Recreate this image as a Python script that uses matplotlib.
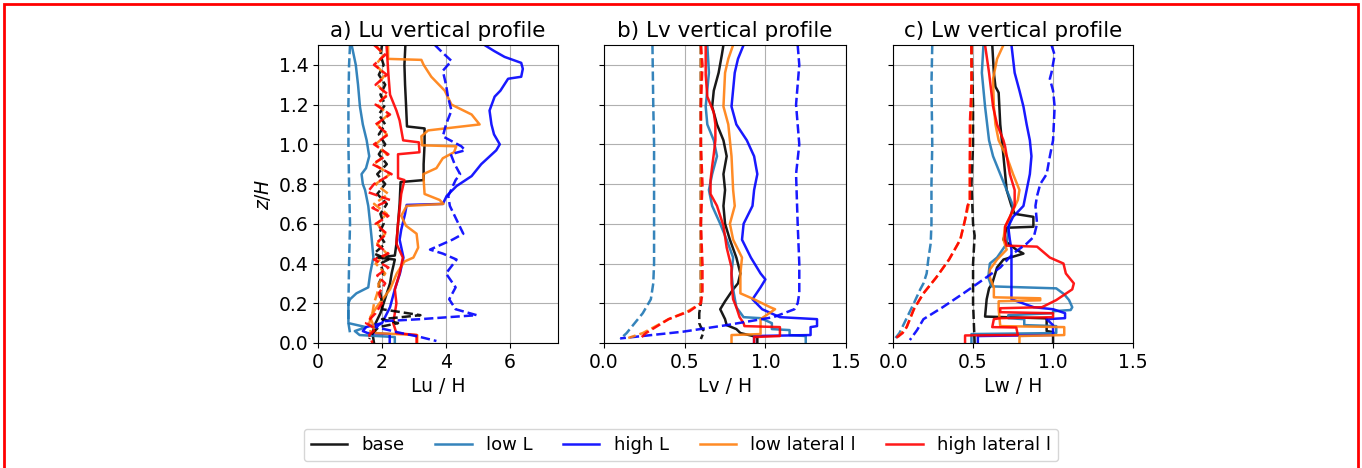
import matplotlib.pyplot as plt
import matplotlib.patches as mpatches
import matplotlib.lines as mlines
import numpy as np

# --- profiles read off the figure : (z/H, L/H) ---
# a) Lu
lu_base = [(1.50, 2.73), (1.40, 2.70), (1.30, 2.72), (1.20, 2.75), (1.09, 2.78), (1.08, 3.33),
           (1.00, 3.33), (0.90, 3.30), (0.82, 3.30), (0.81, 2.58), (0.70, 2.55), (0.60, 2.50),
           (0.50, 2.45), (0.44, 2.40), (0.43, 1.85), (0.42, 2.40), (0.35, 2.30), (0.30, 2.25),
           (0.25, 2.15), (0.20, 2.05), (0.15, 1.95), (0.10, 1.80), (0.05, 1.70), (0.00, 1.75)]
lu_lowL = [(1.50, 1.05), (1.40, 1.18), (1.30, 1.25), (1.19, 1.31), (1.10, 1.40), (1.02, 1.52),
           (0.94, 1.60), (0.88, 1.50), (0.85, 1.36), (0.80, 1.40), (0.77, 1.47), (0.69, 1.57),
           (0.60, 1.63), (0.52, 1.68), (0.43, 1.73), (0.35, 1.63), (0.28, 1.57), (0.25, 1.20),
           (0.22, 1.00), (0.20, 0.95), (0.13, 0.95), (0.10, 0.95), (0.08, 1.50), (0.06, 1.15),
           (0.04, 1.30), (0.03, 2.40), (0.00, 2.40)]
lu_highL = [(1.50, 5.20), (1.47, 5.50), (1.44, 5.83), (1.41, 6.35), (1.38, 6.40), (1.34, 6.35),
            (1.33, 5.94), (1.27, 5.70), (1.24, 5.52), (1.17, 5.36), (1.10, 5.42), (1.05, 5.50),
            (1.00, 5.68), (0.97, 5.57), (0.90, 5.10), (0.84, 4.80), (0.79, 4.33), (0.74, 4.02),
            (0.70, 3.90), (0.695, 2.77), (0.65, 2.72), (0.57, 2.60), (0.52, 2.55), (0.43, 2.67),
            (0.35, 2.56), (0.27, 2.40), (0.18, 2.25), (0.10, 2.00), (0.08, 1.50), (0.06, 1.40),
            (0.05, 1.55), (0.045, 2.24), (0.00, 2.24)]
lu_lowlat = [(1.50, 2.19), (1.43, 2.19), (1.425, 3.23), (1.40, 3.30), (1.34, 3.54), (1.27, 3.96),
             (1.20, 4.17), (1.15, 4.80), (1.10, 5.05), (1.07, 3.44), (1.04, 3.23), (0.995, 3.25),
             (0.99, 4.32), (0.96, 4.25), (0.93, 3.90), (0.88, 3.70), (0.85, 3.29), (0.75, 3.33),
             (0.72, 3.80), (0.70, 3.92), (0.69, 2.77), (0.64, 2.60), (0.59, 2.75), (0.55, 3.08),
             (0.48, 3.13), (0.43, 2.98), (0.41, 2.70), (0.35, 2.46), (0.27, 2.25), (0.18, 1.83),
             (0.13, 1.63), (0.08, 1.75), (0.05, 1.80), (0.04, 3.10), (0.00, 3.10)]
lu_highlat = [(1.50, 2.14), (1.35, 2.20), (1.25, 2.25), (1.17, 2.45), (1.12, 2.55), (1.02, 2.66),
              (1.01, 3.15), (0.96, 3.17), (0.95, 2.50), (0.83, 2.50), (0.82, 2.70), (0.75, 2.60),
              (0.60, 2.50), (0.50, 2.45), (0.43, 2.65), (0.35, 2.55), (0.27, 2.40), (0.20, 2.45),
              (0.10, 2.35), (0.05, 2.45), (0.04, 3.08), (0.00, 3.08)]
lu_base_d = [(1.50, 2.00), (1.45, 1.95), (1.40, 2.05), (1.35, 1.90), (1.30, 2.10), (1.25, 1.95),
             (1.20, 2.10), (1.15, 1.90), (1.10, 2.10), (1.05, 1.90), (1.00, 2.10), (0.95, 1.90),
             (0.90, 2.15), (0.85, 1.85), (0.80, 2.10), (0.75, 1.85), (0.70, 2.15), (0.65, 1.95),
             (0.60, 2.05), (0.55, 1.90), (0.50, 2.10), (0.45, 1.75), (0.42, 2.20), (0.40, 1.95),
             (0.35, 2.05), (0.30, 1.90), (0.25, 1.95), (0.20, 2.00), (0.17, 2.00), (0.14, 3.20),
             (0.12, 2.00), (0.10, 2.50), (0.08, 1.90), (0.05, 1.70), (0.02, 1.60)]
lu_lowL_d = [(1.50, 1.00), (1.40, 0.97), (1.20, 0.95), (1.00, 0.95), (0.80, 0.97), (0.60, 1.00),
             (0.40, 0.97), (0.20, 0.95), (0.10, 0.95), (0.05, 1.00)]
lu_highL_d = [(1.50, 3.65), (1.46, 3.90), (1.42, 4.17), (1.37, 3.90), (1.30, 4.00), (1.24, 4.06),
              (1.17, 4.17), (1.10, 4.00), (1.04, 3.90), (0.99, 4.48), (0.97, 4.60), (0.95, 4.15),
              (0.90, 4.27), (0.85, 4.44), (0.82, 4.30), (0.74, 4.07), (0.69, 4.12), (0.62, 4.33),
              (0.55, 4.54), (0.52, 4.20), (0.47, 3.50), (0.45, 3.90), (0.42, 4.33), (0.35, 4.00),
              (0.28, 4.30), (0.22, 4.10), (0.17, 4.30), (0.14, 4.96), (0.12, 3.20), (0.11, 2.08),
              (0.08, 1.80), (0.05, 2.60), (0.03, 3.20), (0.01, 3.70)]
lu_lowlat_d = [(1.50, 1.80), (1.45, 2.05), (1.40, 1.80), (1.35, 2.10), (1.30, 1.85), (1.25, 2.15),
               (1.20, 1.85), (1.15, 2.20), (1.10, 1.85), (1.05, 2.15), (1.00, 1.80), (0.95, 2.15),
               (0.90, 1.75), (0.85, 2.25), (0.80, 1.80), (0.75, 2.20), (0.70, 1.75), (0.65, 2.15),
               (0.60, 1.85), (0.55, 2.10), (0.50, 1.85), (0.45, 2.15), (0.40, 1.80), (0.35, 2.10),
               (0.30, 1.90), (0.25, 1.85), (0.20, 1.75), (0.15, 1.70), (0.10, 1.60), (0.05, 1.65)]
lu_highlat_d = [(1.50, 1.75), (1.45, 2.10), (1.40, 1.75), (1.35, 2.15), (1.30, 1.80), (1.25, 2.20),
                (1.20, 1.80), (1.15, 2.25), (1.10, 1.80), (1.05, 2.20), (1.00, 1.75), (0.95, 2.20),
                (0.90, 1.70), (0.85, 2.30), (0.80, 1.75), (0.76, 1.55), (0.72, 2.25), (0.68, 1.70),
                (0.64, 2.20), (0.60, 1.80), (0.55, 2.15), (0.50, 1.80), (0.45, 2.20), (0.42, 1.75),
                (0.38, 2.20), (0.34, 1.85), (0.30, 2.10), (0.25, 1.90), (0.20, 2.00), (0.15, 1.80),
                (0.10, 1.50), (0.07, 1.80), (0.04, 1.60), (0.00, 1.70)]

# b) Lv
lv_base = [(1.50, 0.74), (1.45, 0.73), (1.36, 0.71), (1.27, 0.68), (1.19, 0.67), (1.10, 0.70),
           (1.02, 0.74), (0.94, 0.76), (0.85, 0.74), (0.77, 0.75), (0.69, 0.74), (0.60, 0.75),
           (0.52, 0.78), (0.43, 0.82), (0.35, 0.845), (0.30, 0.83), (0.27, 0.80), (0.21, 0.75),
           (0.17, 0.72), (0.12, 0.75), (0.09, 0.76), (0.07, 0.82), (0.05, 0.845), (0.03, 0.95),
           (0.00, 0.95)]
lv_lowL = [(1.50, 0.64), (1.36, 0.65), (1.19, 0.63), (1.10, 0.64), (1.02, 0.68), (0.94, 0.70),
           (0.85, 0.67), (0.77, 0.65), (0.69, 0.67), (0.60, 0.72), (0.52, 0.76), (0.43, 0.80),
           (0.35, 0.79), (0.27, 0.80), (0.18, 0.82), (0.13, 0.865), (0.125, 0.97), (0.10, 1.04),
           (0.07, 1.04), (0.065, 1.15), (0.04, 1.15), (0.035, 1.25), (0.00, 1.25)]
lv_highL = [(1.50, 0.865), (1.43, 0.83), (1.36, 0.81), (1.19, 0.79), (1.10, 0.82), (1.02, 0.885),
            (0.94, 0.93), (0.85, 0.95), (0.77, 0.93), (0.69, 0.92), (0.60, 0.865), (0.52, 0.855),
            (0.43, 0.91), (0.35, 0.97), (0.32, 1.00), (0.28, 0.97), (0.22, 0.92), (0.17, 0.98),
            (0.13, 1.09), (0.12, 1.32), (0.085, 1.32), (0.08, 1.28), (0.04, 1.28), (0.035, 0.93),
            (0.00, 0.93)]
lv_lowlat = [(1.50, 0.80), (1.43, 0.77), (1.36, 0.75), (1.19, 0.74), (1.10, 0.77), (0.94, 0.79),
             (0.77, 0.80), (0.69, 0.81), (0.60, 0.78), (0.52, 0.80), (0.43, 0.855), (0.35, 0.845),
             (0.25, 0.845), (0.22, 0.93), (0.18, 1.03), (0.17, 1.06), (0.12, 0.97), (0.045, 0.97),
             (0.04, 0.79), (0.00, 0.79)]
lv_highlat = [(1.50, 0.63), (1.35, 0.63), (1.24, 0.64), (1.16, 0.68), (1.10, 0.69), (1.02, 0.69),
              (0.95, 0.68), (0.89, 0.67), (0.82, 0.66), (0.75, 0.66), (0.69, 0.70), (0.59, 0.74),
              (0.48, 0.76), (0.38, 0.79), (0.30, 0.79), (0.22, 0.80), (0.18, 0.82), (0.13, 0.84),
              (0.10, 0.865), (0.085, 0.87), (0.08, 1.09), (0.035, 1.09), (0.03, 0.93), (0.00, 0.93)]
lv_base_d = [(1.50, 0.60), (1.00, 0.60), (0.50, 0.60), (0.20, 0.60), (0.15, 0.59), (0.10, 0.59),
             (0.08, 0.60), (0.06, 0.62), (0.04, 0.61), (0.02, 0.60)]
lv_lowL_d = [(1.50, 0.30), (1.20, 0.305), (1.00, 0.31), (0.80, 0.31), (0.60, 0.31), (0.40, 0.31),
             (0.30, 0.305), (0.22, 0.29), (0.15, 0.24), (0.10, 0.19), (0.05, 0.14), (0.02, 0.10)]
lv_highL_d = [(1.50, 1.20), (1.40, 1.21), (1.30, 1.20), (1.20, 1.19), (1.00, 1.21), (0.85, 1.19),
              (0.60, 1.20), (0.40, 1.21), (0.25, 1.21), (0.20, 1.20), (0.17, 1.18), (0.13, 1.05),
              (0.09, 0.76), (0.057, 0.49), (0.023, 0.10)]
lv_lowlat_d = [(1.50, 0.60), (1.20, 0.60), (0.80, 0.60), (0.40, 0.60), (0.20, 0.60), (0.16, 0.52),
               (0.12, 0.40), (0.08, 0.31), (0.05, 0.24), (0.025, 0.15)]
lv_highlat_d = [(1.50, 0.60), (1.40, 0.61), (1.20, 0.60), (1.00, 0.60), (0.80, 0.61), (0.60, 0.60),
                (0.40, 0.61), (0.25, 0.61), (0.20, 0.60), (0.16, 0.53), (0.12, 0.40), (0.08, 0.32),
                (0.05, 0.26), (0.02, 0.22)]

# c) Lw
lw_base = [(1.50, 0.62), (1.36, 0.63), (1.29, 0.64), (1.26, 0.66), (1.10, 0.67), (0.94, 0.69),
           (0.77, 0.71), (0.69, 0.74), (0.65, 0.76), (0.635, 0.877), (0.585, 0.877), (0.58, 0.71),
           (0.52, 0.69), (0.47, 0.77), (0.45, 0.815), (0.42, 0.69), (0.38, 0.65), (0.30, 0.62),
           (0.275, 0.60), (0.22, 0.585), (0.133, 0.575), (0.124, 0.96), (0.06, 0.96), (0.055, 1.00),
           (0.00, 1.00)]
lw_lowL = [(1.50, 0.565), (1.36, 0.555), (1.19, 0.575), (1.02, 0.60), (0.94, 0.625), (0.85, 0.67),
           (0.77, 0.71), (0.69, 0.75), (0.62, 0.73), (0.50, 0.71), (0.43, 0.65), (0.40, 0.605),
           (0.33, 0.595), (0.285, 0.615), (0.275, 1.02), (0.245, 1.07), (0.216, 1.10), (0.18, 1.12),
           (0.166, 1.11), (0.16, 1.00), (0.15, 1.00), (0.14, 0.72), (0.125, 0.72), (0.12, 0.82),
           (0.09, 0.82), (0.085, 1.02), (0.05, 1.02), (0.045, 0.49), (0.00, 0.49)]
lw_highL = [(1.50, 0.74), (1.36, 0.76), (1.27, 0.79), (1.19, 0.815), (1.10, 0.835), (1.02, 0.855),
            (0.94, 0.865), (0.85, 0.855), (0.77, 0.835), (0.69, 0.815), (0.635, 0.75), (0.585, 0.72),
            (0.52, 0.73), (0.47, 0.74), (0.35, 0.74), (0.22, 0.74), (0.18, 0.88), (0.17, 1.00),
            (0.15, 1.075), (0.125, 1.075), (0.12, 0.96), (0.09, 1.00), (0.04, 1.00), (0.035, 0.53),
            (0.00, 0.53)]
lw_lowlat = [(1.50, 0.69), (1.43, 0.65), (1.33, 0.625), (1.19, 0.63), (1.10, 0.64), (1.02, 0.66),
             (0.97, 0.69), (0.94, 0.71), (0.85, 0.75), (0.77, 0.79), (0.72, 0.78), (0.65, 0.74),
             (0.585, 0.70), (0.52, 0.69), (0.47, 0.71), (0.42, 0.65), (0.37, 0.605), (0.33, 0.605),
             (0.28, 0.63), (0.23, 0.63), (0.225, 0.92), (0.215, 0.92), (0.21, 0.66), (0.17, 0.66),
             (0.085, 0.67), (0.08, 1.07), (0.04, 1.07), (0.035, 0.79), (0.00, 0.79)]
lw_highlat = [(1.50, 0.575), (1.36, 0.60), (1.19, 0.625), (1.10, 0.65), (1.02, 0.69), (0.99, 0.70),
              (0.85, 0.73), (0.77, 0.76), (0.69, 0.76), (0.635, 0.73), (0.585, 0.70), (0.52, 0.70),
              (0.49, 0.71), (0.485, 0.90), (0.43, 0.98), (0.40, 1.065), (0.35, 1.08), (0.30, 1.13),
              (0.27, 1.12), (0.216, 1.02), (0.18, 0.93), (0.175, 0.67), (0.155, 0.67), (0.15, 1.00),
              (0.13, 1.00), (0.125, 0.67), (0.12, 0.63), (0.08, 0.62), (0.078, 0.77), (0.04, 0.78),
              (0.038, 0.45), (0.00, 0.45)]
lw_base_d = [(1.50, 0.49), (1.20, 0.50), (1.00, 0.50), (0.80, 0.49), (0.60, 0.50), (0.54, 0.51),
             (0.40, 0.50), (0.20, 0.50), (0.00, 0.51)]
lw_lowL_d = [(1.50, 0.245), (1.30, 0.24), (1.00, 0.245), (0.80, 0.24), (0.60, 0.24), (0.50, 0.235),
             (0.42, 0.22), (0.35, 0.21), (0.30, 0.19), (0.27, 0.17), (0.20, 0.13), (0.15, 0.10),
             (0.10, 0.07), (0.05, 0.04), (0.01, 0.00)]
lw_highL_d = [(1.50, 0.99), (1.45, 1.01), (1.36, 0.99), (1.33, 0.98), (1.27, 1.00), (1.19, 1.01),
              (1.02, 1.00), (0.94, 0.98), (0.85, 0.96), (0.80, 0.92), (0.74, 0.90), (0.69, 0.89),
              (0.60, 0.90), (0.535, 0.88), (0.50, 0.835), (0.45, 0.75), (0.38, 0.67), (0.32, 0.565),
              (0.25, 0.44), (0.18, 0.31), (0.12, 0.19), (0.065, 0.15), (0.015, 0.105)]
lw_lowlat_d = [(1.50, 0.49), (1.20, 0.49), (0.90, 0.48), (0.72, 0.48), (0.62, 0.45), (0.52, 0.42),
               (0.42, 0.35), (0.33, 0.27), (0.25, 0.19), (0.17, 0.13), (0.08, 0.085), (0.03, 0.03)]
lw_highlat_d = [(1.50, 0.49), (1.30, 0.49), (1.10, 0.48), (0.90, 0.48), (0.72, 0.48), (0.69, 0.465),
                (0.62, 0.45), (0.52, 0.42), (0.42, 0.35), (0.33, 0.27), (0.25, 0.19), (0.17, 0.13),
                (0.08, 0.085), (0.05, 0.06), (0.02, 0.01)]

cases = ['base', 'low L', 'high L', 'low lateral l', 'high lateral l']
colors = ['black', '#1f77b4', 'blue', '#ff7f0e', 'red']

panels = [
    ('a) Lu vertical profile', 'Lu / H', (0, 7.5), [0, 2, 4, 6],
     [lu_base, lu_lowL, lu_highL, lu_lowlat, lu_highlat],
     [lu_base_d, lu_lowL_d, lu_highL_d, lu_lowlat_d, lu_highlat_d]),
    ('b) Lv vertical profile', 'Lv / H', (0, 1.5), [0.0, 0.5, 1.0, 1.5],
     [lv_base, lv_lowL, lv_highL, lv_lowlat, lv_highlat],
     [lv_base_d, lv_lowL_d, lv_highL_d, lv_lowlat_d, lv_highlat_d]),
    ('c) Lw vertical profile', 'Lw / H', (0, 1.5), [0.0, 0.5, 1.0, 1.5],
     [lw_base, lw_lowL, lw_highL, lw_lowlat, lw_highlat],
     [lw_base_d, lw_lowL_d, lw_highL_d, lw_lowlat_d, lw_highlat_d]),
]

fig = plt.figure(figsize=(13.62, 4.68), dpi=100)
lefts = [0.2335, 0.4435, 0.6557]
widths = [0.1762, 0.1777, 0.1762]

for i, (title, xlabel, xlim, xticks, solid, dashed) in enumerate(panels):
    ax = fig.add_axes([lefts[i], 0.2671, widths[i], 0.6368])
    for prof, c in zip(solid, colors):
        p = np.array(prof)
        ax.plot(p[:, 1], p[:, 0], color=c, lw=1.8, alpha=0.9)
    for prof, c in zip(dashed, colors):
        p = np.array(prof)
        ax.plot(p[:, 1], p[:, 0], color=c, lw=1.8, ls='--', alpha=0.9)
    ax.set_xlim(*xlim)
    ax.set_ylim(0, 1.5)
    ax.set_xticks(xticks)
    ax.set_yticks(np.arange(0, 1.41, 0.2))
    ax.grid(True)
    ax.set_title(title, fontsize=15.5)
    ax.set_xlabel(xlabel, fontsize=13.5)
    ax.tick_params(labelsize=13.5)
    if i == 0:
        ax.set_ylabel('$z/H$', fontsize=13.5)
    else:
        ax.set_yticklabels([])

handles = [mlines.Line2D([], [], color=c, lw=1.8, alpha=0.9) for c in colors]
fig.legend(handles, cases, loc='lower center', ncol=5, fontsize=13,
           columnspacing=1.7, bbox_to_anchor=(0.5, -0.005))

# cadre rouge autour de la figure
fig.patches.append(mpatches.Rectangle((0.003, -0.02), 0.994, 1.011, transform=fig.transFigure,
                                      fill=False, edgecolor='red', lw=2))

fig.savefig('out.png', dpi=100)
